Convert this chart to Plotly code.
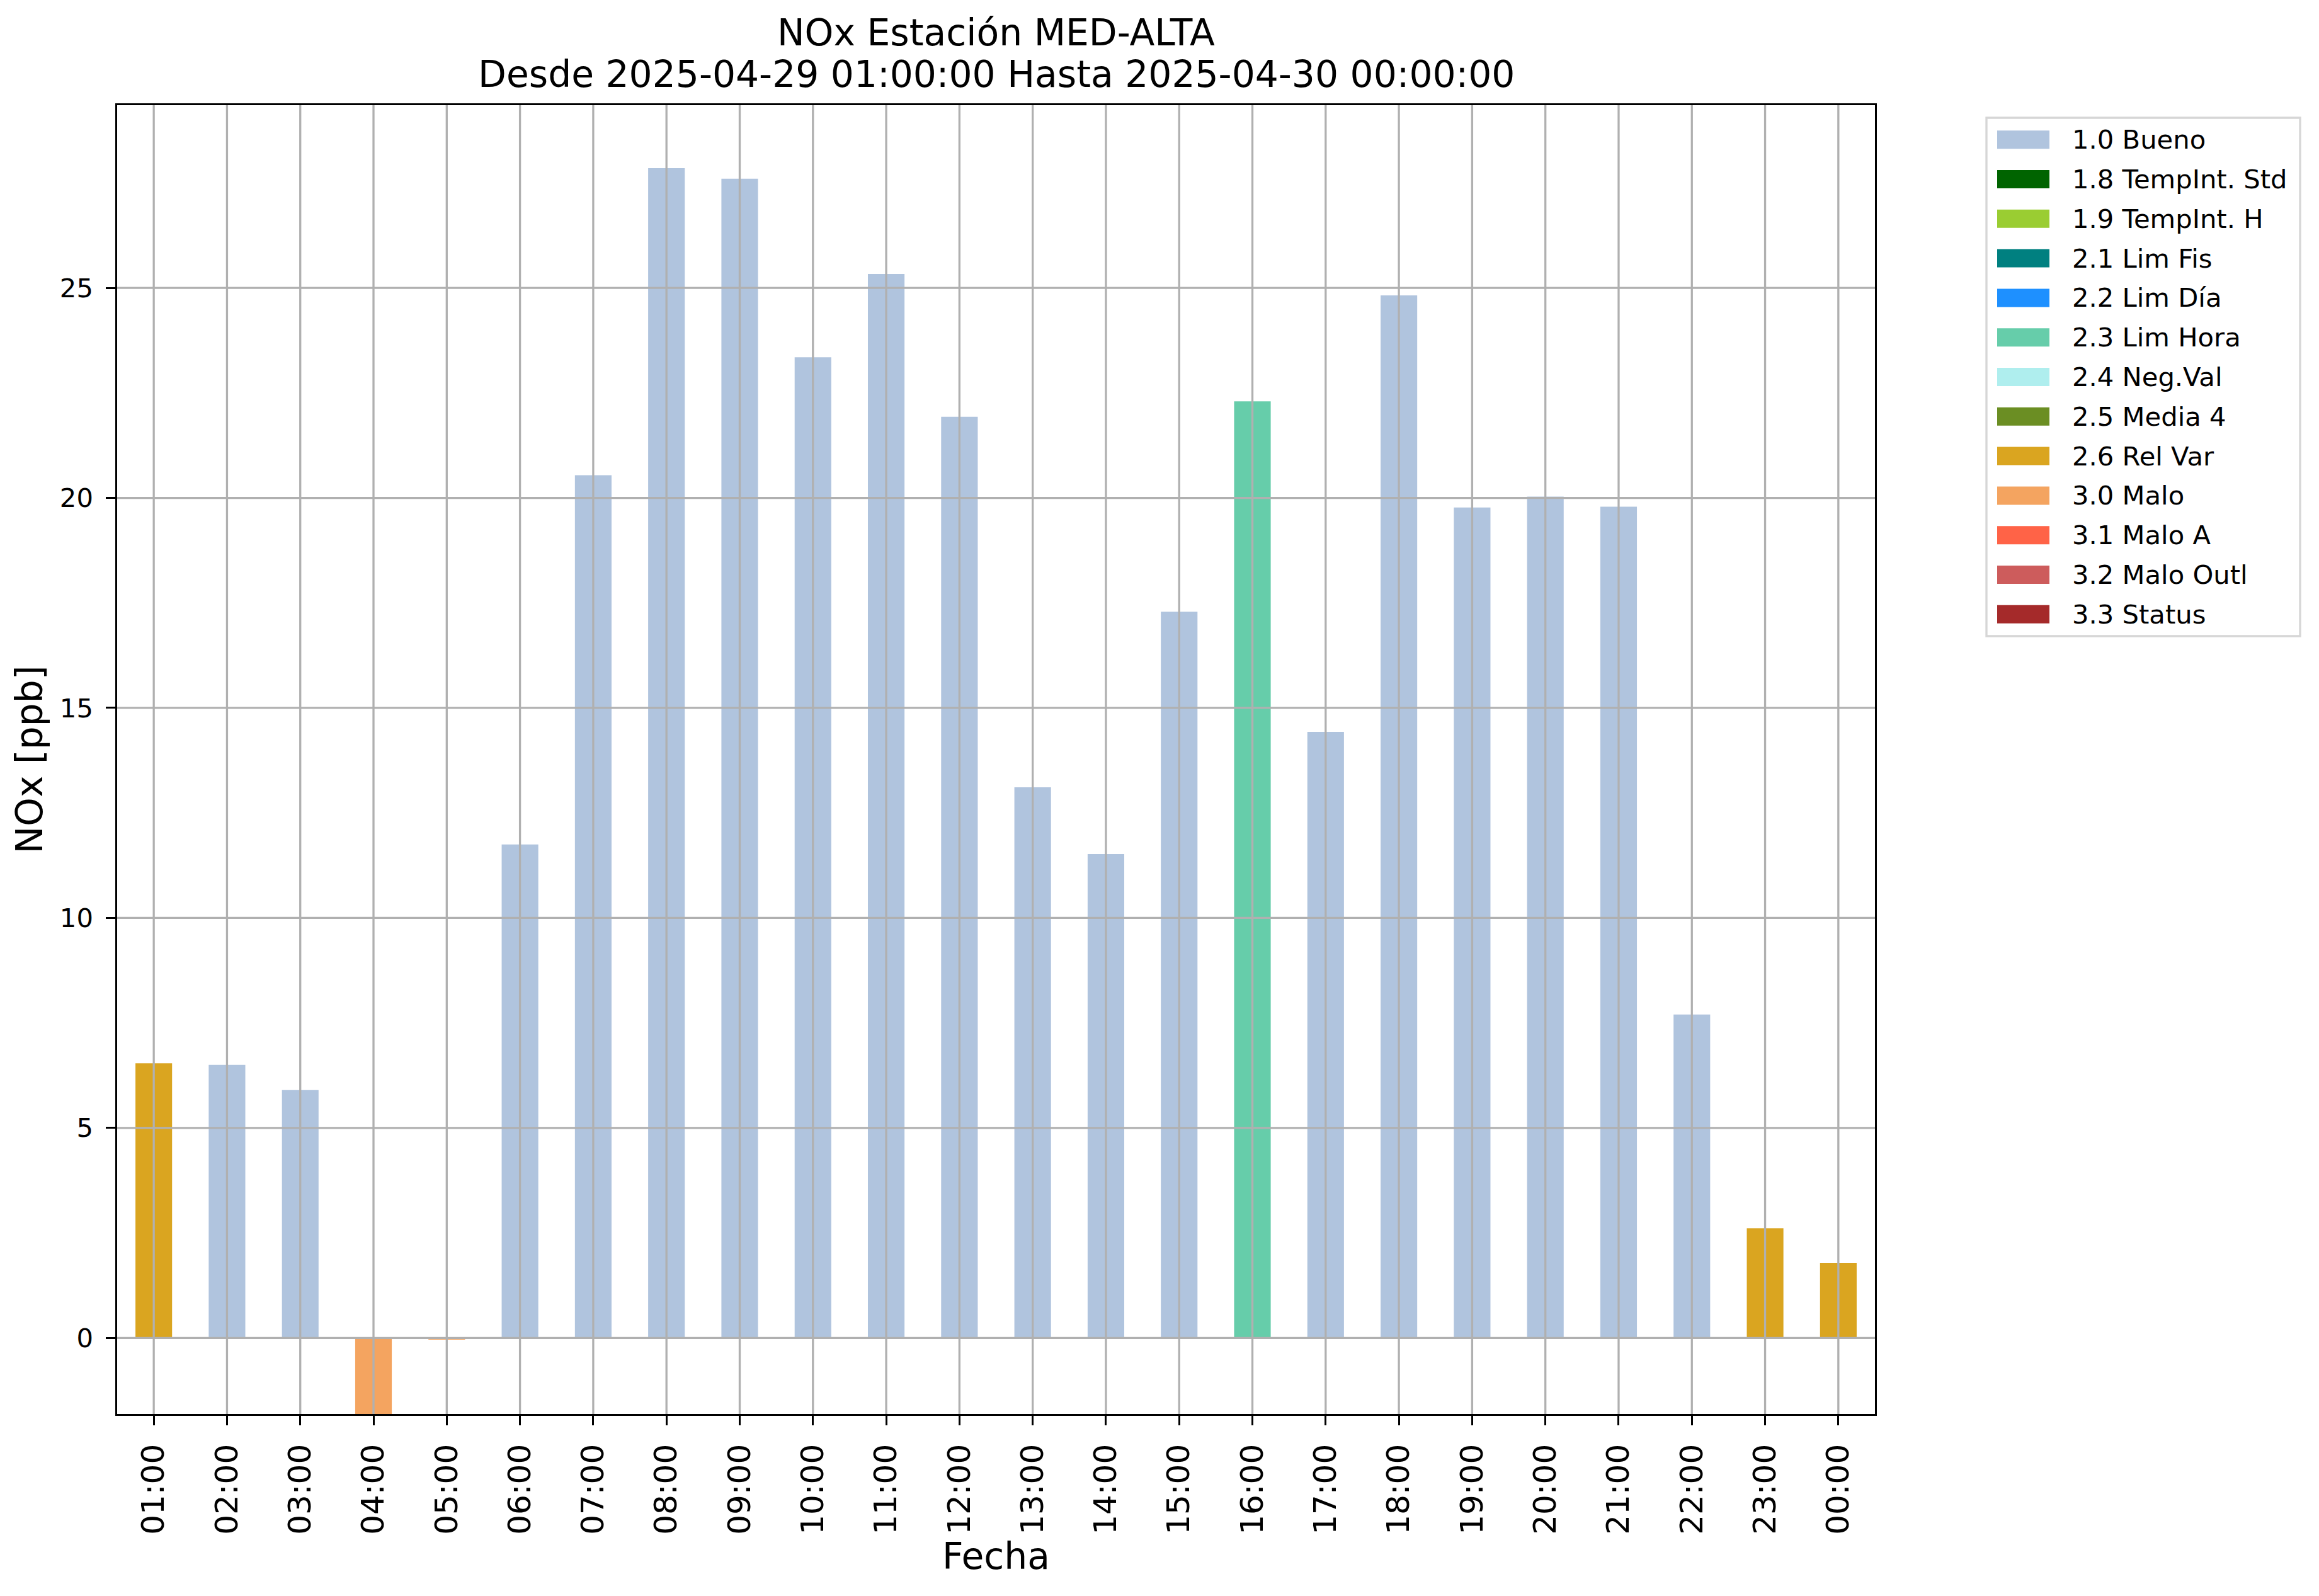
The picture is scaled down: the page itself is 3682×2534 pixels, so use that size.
import plotly.graph_objects as go

# ---------------- data ----------------
horas = ["01:00", "02:00", "03:00", "04:00", "05:00", "06:00", "07:00", "08:00",
         "09:00", "10:00", "11:00", "12:00", "13:00", "14:00", "15:00", "16:00",
         "17:00", "18:00", "19:00", "20:00", "21:00", "22:00", "23:00", "00:00"]
nox = [6.54, 6.50, 5.90, -4.0, -0.04, 11.75, 20.54, 27.85,
       27.60, 23.35, 25.33, 21.93, 13.11, 11.52, 17.29, 22.30,
       14.43, 24.82, 19.77, 20.03, 19.79, 7.70, 2.61, 1.79]
flags = ["2.6", "1.0", "1.0", "3.0", "3.0", "1.0", "1.0", "1.0",
         "1.0", "1.0", "1.0", "1.0", "1.0", "1.0", "1.0", "2.3",
         "1.0", "1.0", "1.0", "1.0", "1.0", "1.0", "2.6", "2.6"]

cat_codes = ["1.0", "1.8", "1.9", "2.1", "2.2", "2.3", "2.4", "2.5", "2.6",
             "3.0", "3.1", "3.2", "3.3"]
cat_names = ["1.0 Bueno", "1.8 TempInt. Std", "1.9 TempInt. H", "2.1 Lim Fis",
             "2.2 Lim Día", "2.3 Lim Hora", "2.4 Neg.Val", "2.5 Media 4",
             "2.6 Rel Var", "3.0 Malo", "3.1 Malo A", "3.2 Malo Outl", "3.3 Status"]
cat_colors = ["#B0C4DE", "#006400", "#9ACD32", "#008080", "#1E90FF", "#66CDAA",
              "#AFEEEE", "#6B8E23", "#DAA520", "#F4A460", "#FF6347", "#CD5C5C",
              "#A52A2A"]

y_ticks = [0, 5, 10, 15, 20, 25]
y_range = [-1.81, 29.35]

titulo_1 = "NOx Estación MED-ALTA"
titulo_2 = "Desde 2025-04-29 01:00:00 Hasta 2025-04-30 00:00:00"

# ---------------- layout constants ----------------
PAGE_W, PAGE_H = 3682, 2534
OFF = 8                              # default page body margin
W, H = PAGE_W - OFF, PAGE_H - OFF
L, R, T, B = 186, 2977, 167, 2245   # plot area in page pixels
FONT = "DejaVu Sans"
GRID = "#b0b0b0"
LW = 3.3

def px_x(px):
    return (px - L) / (R - L)

def px_y(py):
    return (B - py) / (B - T)

fig = go.Figure()

for code, name, color in zip(cat_codes, cat_names, cat_colors):
    ys = [v if f == code else None for v, f in zip(nox, flags)]
    if all(v is None for v in ys):
        continue
    fig.add_trace(go.Bar(
        x=horas, y=ys, name=name, width=0.5,
        marker=dict(color=color, line=dict(width=0)),
        showlegend=False,
    ))

shapes = []
# grid lines drawn above bars (as in the reference)
for h in horas:
    shapes.append(dict(type="line", xref="x", yref="paper", x0=h, x1=h, y0=0, y1=1,
                       line=dict(color=GRID, width=LW), layer="above"))
for t in y_ticks:
    shapes.append(dict(type="line", xref="paper", yref="y", x0=0, x1=1, y0=t, y1=t,
                       line=dict(color=GRID, width=LW), layer="above"))

annotations = []
# title (two lines)
for text, shift in ((titulo_1, 79), (titulo_2, 13)):
    annotations.append(dict(xref="paper", yref="paper", x=0.5, y=1, yshift=shift,
                            text=text, showarrow=False, xanchor="center",
                            yanchor="bottom",
                            font=dict(family=FONT, size=58.3, color="black")))

# legend box
row0, dy = 221.7, 62.8
leg_left, leg_right, leg_top = 3154, 3652, 187
leg_bottom = row0 + (len(cat_names) - 1) * dy + (row0 - leg_top)
shapes.append(dict(type="rect", xref="paper", yref="paper",
                   x0=px_x(leg_left), x1=px_x(leg_right),
                   y0=px_y(leg_bottom), y1=px_y(leg_top),
                   line=dict(color="#d6d6d6", width=LW), fillcolor="white",
                   layer="above"))
for i, (name, color) in enumerate(zip(cat_names, cat_colors)):
    cy = row0 + i * dy
    shapes.append(dict(type="rect", xref="paper", yref="paper",
                       x0=px_x(3171), x1=px_x(3254),
                       y0=px_y(cy + 14.5), y1=px_y(cy - 14.5),
                       line=dict(width=0), fillcolor=color, layer="above"))
    annotations.append(dict(xref="paper", yref="paper", x=px_x(3288), y=px_y(cy),
                            text=name, showarrow=False, xanchor="left",
                            yanchor="middle",
                            font=dict(family=FONT, size=41.7, color="black")))

fig.update_layout(
    width=W, height=H,
    margin=dict(l=L - OFF, r=PAGE_W - R, t=T - OFF, b=PAGE_H - B, pad=0),
    paper_bgcolor="white", plot_bgcolor="white",
    barmode="overlay",
    font=dict(family=FONT, color="black"),
    shapes=shapes,
    annotations=annotations,
    showlegend=False,
)

fig.update_xaxes(
    type="category", categoryorder="array", categoryarray=horas,
    range=[-0.5, len(horas) - 0.5],
    showgrid=False, zeroline=False,
    showline=True, mirror=True, linecolor="black", linewidth=LW,
    ticks="outside", ticklen=14.6, tickwidth=LW, tickcolor="black",
    tickangle=-90, ticklabelstandoff=10,
    tickfont=dict(family=FONT, size=50, color="black"),
    title=dict(text="Fecha", standoff=14,
               font=dict(family=FONT, size=58.3, color="black")),
)
fig.update_yaxes(
    range=y_range, tickmode="array", tickvals=y_ticks,
    ticktext=[str(t) for t in y_ticks],
    showgrid=False, zeroline=False,
    showline=True, mirror=True, linecolor="black", linewidth=LW,
    ticks="outside", ticklen=14.6, tickwidth=LW, tickcolor="black",
    ticklabelstandoff=12,
    tickfont=dict(family=FONT, size=41.7, color="black"),
    title=dict(text="NOx [ppb]", standoff=9,
               font=dict(family=FONT, size=58.3, color="black")),
)

fig.write_html("out.html")
